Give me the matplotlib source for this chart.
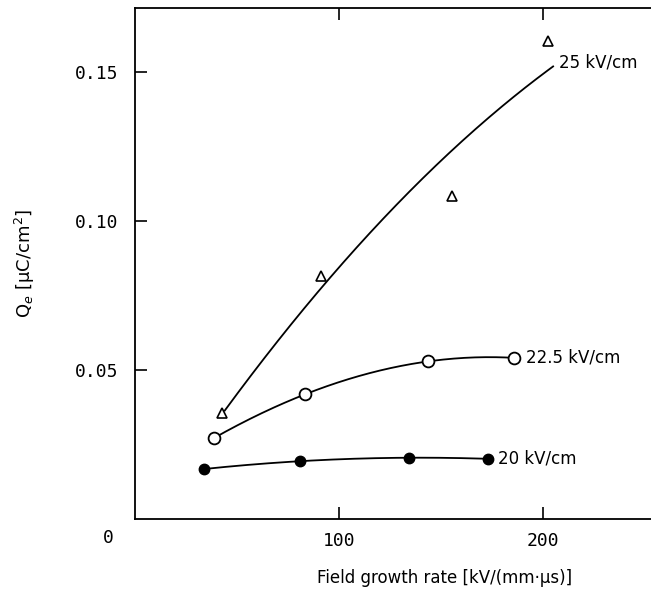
import numpy as np
import matplotlib
matplotlib.use("Agg")
import matplotlib.pyplot as plt

rate_20 = [34, 81, 134.5, 173]
q_20 = [0.0168, 0.0194, 0.0206, 0.0202]

rate_225 = [38.5, 83.5, 143.5, 186]
q_225 = [0.0271, 0.0419, 0.0529, 0.0541]

rate_25 = [42.5, 91, 155.5, 202.5]
q_25 = [0.0355, 0.0815, 0.1083, 0.1606]

# hand-drawn guide curve for 25 kV/cm (it does not pass through every point)
guide_rate_25 = [44, 56, 92, 130, 170, 205]
guide_q_25 = [0.0365, 0.047, 0.0785, 0.1074, 0.1315, 0.1525]

labels = ["20 kV/cm", "22.5 kV/cm", "25 kV/cm"]

plt.rcParams["font.family"] = ["DejaVu Sans"]

fig = plt.figure(figsize=(6.51, 5.95), dpi=100)
ax = fig.add_axes([0.2074, 0.1277, 0.7926, 0.859])


def smooth(xs, ys, deg):
    c = np.polyfit(xs, ys, deg)
    xx = np.linspace(xs[0], xs[-1], 200)
    return xx, np.polyval(c, xx)


xx, yy = smooth(rate_20, q_20, 2)
ax.plot(xx, yy, color="black", lw=1.3)
ax.plot(rate_20, q_20, "o", color="black", ms=7.5)

xx, yy = smooth(rate_225, q_225, 3)
ax.plot(xx, yy, color="black", lw=1.3)
ax.plot(rate_225, q_225, "o", mfc="white", mec="black", mew=1.3, ms=8.5)

xx, yy = smooth(guide_rate_25, guide_q_25, 2)
ax.plot(xx, yy, color="black", lw=1.3)
ax.plot(rate_25, q_25, "^", mfc="white", mec="black", mew=1.2, ms=7)

ax.text(rate_20[-1] + 5, q_20[-1], labels[0], fontsize=12, va="center", ha="left")
ax.text(rate_225[-1] + 5.5, q_225[-1], labels[1], fontsize=12, va="center", ha="left")
ax.text(guide_rate_25[-1] + 3, guide_q_25[-1] + 0.0008, labels[2], fontsize=12,
        va="center", ha="left")

ax.set_xlim(0, 253)
ax.set_ylim(0, 0.1716)
ax.set_xticks([100, 200])
ax.set_yticks([0.05, 0.10, 0.15])
ax.set_yticklabels(["0.05", "0.10", "0.15"])
ax.tick_params(direction="in", length=8.5, width=1.2, top=True)
ax.tick_params(axis="x", pad=9)
ax.tick_params(axis="y", pad=12)
for lab in ax.get_xticklabels() + ax.get_yticklabels():
    lab.set_family("DejaVu Sans Mono")
    lab.set_fontsize(13)
ax.annotate("0", xy=(0, 0), xycoords="data", xytext=(-19, -14),
            textcoords="offset points", ha="center", va="center", fontsize=13,
            family="DejaVu Sans Mono")

for s in ["left", "bottom", "top"]:
    ax.spines[s].set_linewidth(1.3)
ax.spines["right"].set_visible(False)

ax.set_xlabel("Field growth rate [kV/(mm·μs)]", fontsize=12)
ax.xaxis.set_label_coords(0.60, -0.098)
ax.set_ylabel("Q$_e$ [μC/cm$^2$]", fontsize=13)
ax.yaxis.set_label_coords(-0.19, 0.5)

fig.savefig("out.png", dpi=100)
